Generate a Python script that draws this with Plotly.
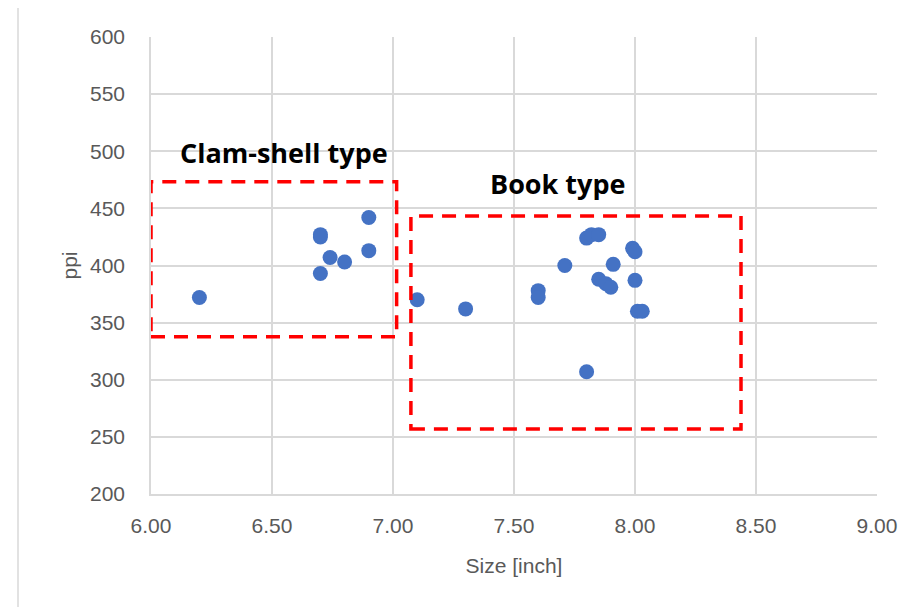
import plotly.graph_objects as go

size_inch = [6.2, 6.7, 6.7, 6.74, 6.8, 6.7, 6.9, 6.9,
             7.1, 7.3, 7.6, 7.6, 7.71, 7.8, 7.82, 7.85, 7.8, 7.85,
             7.88, 7.9, 7.91, 7.99, 8.0, 8.0, 8.01, 8.03]
ppi = [372, 425, 427, 407, 403, 393, 442, 413,
       370, 362, 378, 372, 400, 424, 427, 427, 307, 388,
       384, 381, 401, 415, 412, 387, 360, 360]

x_ticks = [6.0, 6.5, 7.0, 7.5, 8.0, 8.5, 9.0]
y_ticks = [200, 250, 300, 350, 400, 450, 500, 550, 600]

groups = ["Clam-shell type", "Book type"]
group_boxes = [(6.0, 7.015, 337.7, 473.4), (7.074, 8.438, 256.9, 443.3)]
label_pos = [(6.55, 498.5), (7.678, 472.2)]

fig = go.Figure()
fig.add_trace(go.Scatter(
    x=size_inch, y=ppi, mode="markers",
    marker=dict(color="#4472C4", size=15, line=dict(width=0)),
    showlegend=False, cliponaxis=False,
))

for (x0, x1, y0, y1) in group_boxes:
    fig.add_shape(type="rect", x0=x0, x1=x1, y0=y0, y1=y1, xref="x", yref="y",
                  line=dict(color="#FF0000", width=3.5, dash="14px,9px"))

for name, (lx, ly) in zip(groups, label_pos):
    fig.add_annotation(x=lx, y=ly, text="<b>" + name + "</b>", showarrow=False,
                       font=dict(family="Open Sans", size=27, color="black"))

# outer chart border
fig.add_shape(type="rect", xref="paper", yref="paper",
              x0=-133/726, x1=1.1, y0=-(620-494)/457, y1=1 + 30/457,
              line=dict(color="#d9d9d9", width=1.5), layer="below")

axis_font = dict(family="Liberation Sans", size=21, color="#595959")
fig.update_xaxes(range=[6, 9], tickvals=x_ticks, tickformat=".2f",
                 showgrid=True, gridcolor="#d9d9d9", gridwidth=1.5,
                 showline=True, linecolor="#d9d9d9", linewidth=1.5,
                 zeroline=False, tickfont=axis_font, ticks="",
                 ticklabelstandoff=12,
                 title=dict(text="Size [inch]", font=axis_font, standoff=22))
fig.update_yaxes(range=[200, 600], tickvals=y_ticks,
                 showgrid=True, gridcolor="#d9d9d9", gridwidth=1.5,
                 showline=True, linecolor="#d9d9d9", linewidth=1.5,
                 zeroline=False, tickfont=axis_font, ticks="",
                 ticklabelstandoff=20,
                 title=dict(text="ppi", font=axis_font, standoff=7))

fig.update_layout(width=917, height=607,
                  margin=dict(l=143, r=48, t=29, b=121),
                  plot_bgcolor="white", paper_bgcolor="white")

fig.write_html("out.html")
